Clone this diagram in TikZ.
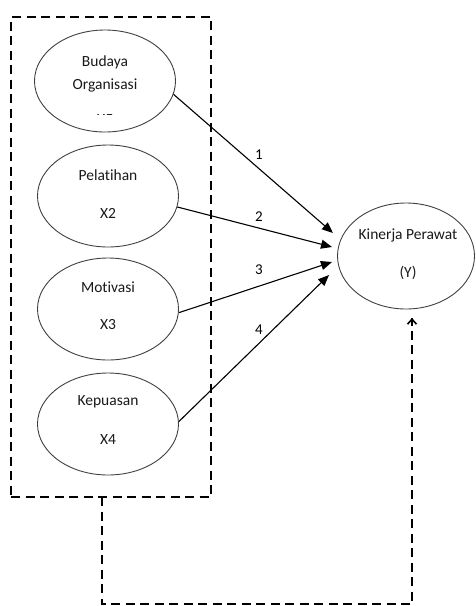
\documentclass[tikz,border=0pt]{standalone}
\usepackage{fontspec}
\setmainfont{Carlito}[Ligatures={NoCommon}]
\usetikzlibrary{shapes.geometric,arrows.meta}
\begin{document}
\begin{tikzpicture}[x=1pt,y=-1pt,
  oval/.style={draw=black!75, line width=0.9pt, ellipse, minimum width=141pt, minimum height=102pt, inner sep=0pt},
  txt/.style={font=\fontsize{15.5}{17}\selectfont, inner sep=0pt, text=black!90},
  num/.style={font=\fontsize{15}{17}\selectfont, inner sep=0pt},
  dline/.style={line width=1.6pt, dash pattern=on 9pt off 5.5pt},
  arr/.style={line width=1.1pt, -{Triangle[length=11pt,width=9pt]}}]
\useasboundingbox (0,0) rectangle (475,606);
% dashed box
\node[dline, draw, minimum width=200pt, minimum height=480pt, inner sep=0pt] (box) at (111,257) {};
% ellipses
\node[oval] (e1) at (105,81) {};
\node[oval] (e2) at (108,196) {};
\node[oval] (e3) at (108,309) {};
\node[oval] (e4) at (108,424) {};
\node[oval, minimum width=137pt, minimum height=106pt] (y) at (406,256) {};
% texts
\node[txt] (t1a) at (105,62) {Budaya};
\node[txt] (t1b) at (105,85) {Organisasi};
\begin{scope}
\clip (60,114.5) rectangle (150,122);
\node[txt] (t1c) at (105,110.5) {X1};
\end{scope}
\node[txt] (t2a) at (108,175) {Pelatihan};
\node[txt] (t2b) at (108,213) {X2};
\node[txt] (t3a) at (108,287) {Motivasi};
\node[txt] (t3b) at (108,325) {X3};
\node[txt] (t4a) at (108,402) {Kepuasan};
\node[txt] (t4b) at (108,440) {X4};
\node[txt] (tya) at (408,235) {Kinerja Perawat};
\node[txt] (tyb) at (408,273) {(Y)};
% arrow tips
\coordinate (p1) at (333,233);
\coordinate (p2) at (332,247);
\coordinate (p3) at (332,262);
\coordinate (p4) at (329,275);
\draw[arr] (e1.-11) -- (p1);
\draw[arr] (e2.-9) -- (p2);
\draw[arr] (e3.-3) -- (p3);
\draw[arr] (e4.2) -- (p4);
% labels
\node[num] (n1) at (259,155) {1};
\node[num] (n2) at (259,217) {2};
\node[num] (n3) at (259,270) {3};
\node[num] (n4) at (259,330) {4};
% feedback
\coordinate (f0) at (102,497);
\coordinate (f1) at (102,604);
\coordinate (f2) at (412,604);
\coordinate (f3) at (412,318);
\draw[dline] (f0) -- (f1) -- (f2) -- (f3);
\draw[line width=1.6pt, -{Straight Barb[length=5pt,width=9pt]}] (412,326) -- (f3);
\end{tikzpicture}
\end{document}
